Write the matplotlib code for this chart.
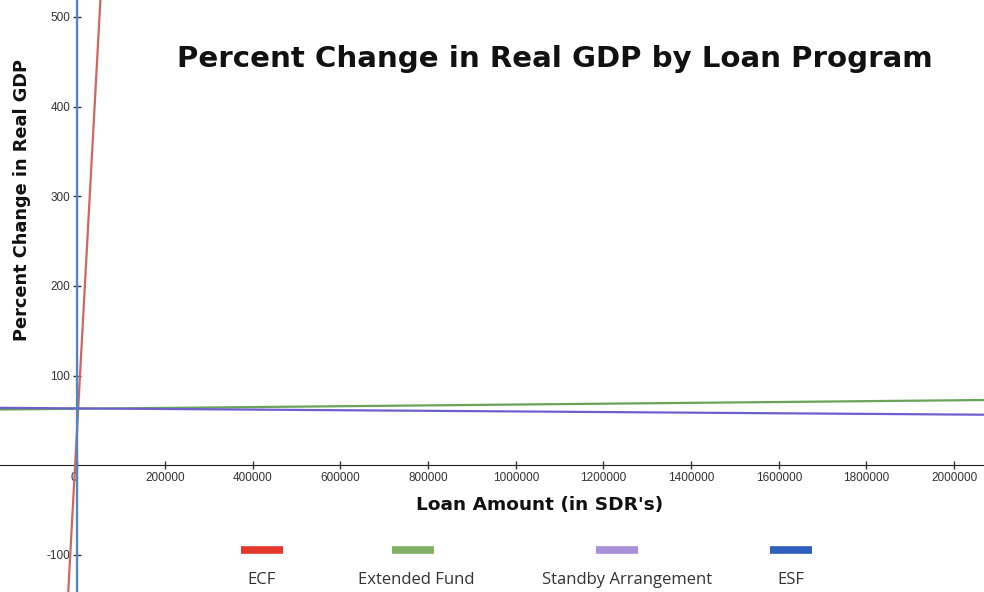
import matplotlib
matplotlib.use("Agg")
import matplotlib.pyplot as plt
from matplotlib.lines import Line2D

# Series endpoints (loan amount in SDR, percent change in real GDP)
ecf_x = [-25000, 55000]
ecf_y = [-180, 540]
ext_x = [-180000, 2070000]
ext_y = [62.2, 72.8]
sba_x = [-180000, 2070000]
sba_y = [64.1, 56.4]
esf_x = [0, 0]
esf_y = [-160, 540]

series_names = ["ECF", "Extended Fund", "Standby Arrangement", "ESF"]
line_colors = ["#d2655f", "#6aa45a", "#6e5fd0", "#4f86c6"]
legend_colors = ["#e5382b", "#7fb064", "#a98ed8", "#2f5fbe"]

x_ticks = list(range(0, 2000001, 200000))
y_ticks = [-100, 100, 200, 300, 400, 500]

fig = plt.figure(figsize=(9.84, 5.92), dpi=100)
ax = fig.add_axes([0, 0, 1, 1])

for xs, ys, c in zip([ecf_x, ext_x, sba_x, esf_x],
                     [ecf_y, ext_y, sba_y, esf_y], line_colors):
    ax.plot(xs, ys, color=c, lw=1.6, zorder=3)

ax.set_xlim(-176300, 2068000)
ax.set_ylim(-141.3, 518.9)

# Axes through the origin
for side in ["top", "right"]:
    ax.spines[side].set_visible(False)
ax.spines["left"].set_position(("data", 0))
ax.spines["bottom"].set_position(("data", 0))
ax.spines["bottom"].set_color("#222222")
ax.spines["left"].set_color("#222222")

ax.set_xticks(x_ticks)
ax.set_xticklabels([str(t) for t in x_ticks])
ax.set_yticks(y_ticks)
ax.set_yticklabels([str(t) for t in y_ticks])
ax.tick_params(direction="inout", length=6, width=1, color="#333333",
               labelsize=8.5, labelcolor="#333333", pad=2)
for lab in ax.get_xticklabels():
    lab.set_fontfamily("Liberation Sans")
    if lab.get_text() == "0":
        lab.set_horizontalalignment("right")
for lab in ax.get_yticklabels():
    lab.set_fontfamily("Liberation Sans")

# Titles
fig.text(0.5635, 0.901, "Percent Change in Real GDP by Loan Program",
         ha="center", va="center", fontsize=21.1, fontweight="bold",
         family="DejaVu Sans", color="#111111")
fig.text(0.0224, 0.662, "Percent Change in Real GDP", rotation=90,
         ha="center", va="center", fontsize=12.8, fontweight="bold",
         family="DejaVu Sans", color="#111111")
fig.text(0.548, 0.147, "Loan Amount (in SDR's)", ha="center", va="center",
         fontsize=13.3, fontweight="bold", family="DejaVu Sans",
         color="#111111")

# Legend laid out below the axis
bar_cx = [262, 413, 617, 791]
text_cx = [262, 416, 627, 791]
for name, c, bx, tx in zip(series_names, legend_colors, bar_cx, text_cx):
    fig.add_artist(Line2D([(bx - 21) / 984, (bx + 21) / 984],
                          [1 - 550 / 592] * 2, transform=fig.transFigure,
                          color=c, lw=5.5, solid_capstyle="butt"))
    fig.text(tx / 984, 1 - 580 / 592, name, ha="center", va="center",
             fontsize=12, family="Open Sans", color="#333333")

fig.savefig("out.png", dpi=100)
